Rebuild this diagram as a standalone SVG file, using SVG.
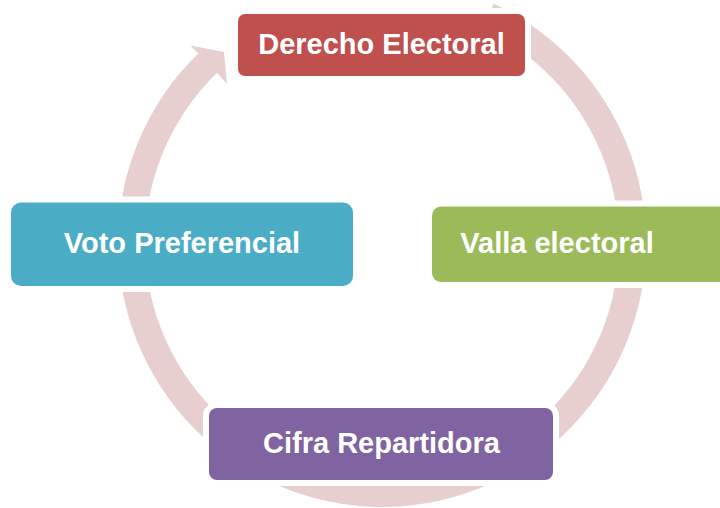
<svg xmlns="http://www.w3.org/2000/svg" width="720" height="508" viewBox="0 0 720 508">
  <style>
    .box { stroke: #FFFFFF; stroke-width: 12; paint-order: stroke fill; }
    .lbl { font-family: "Liberation Sans", Arial, sans-serif; font-weight: bold; font-size: 29px; fill: #FFFFFF; text-anchor: middle; }
    .ring { fill: #E7CFD0; }
  </style>
  <rect width="720" height="508" fill="#FFFFFF"/>
  <g id="connectors">
    <path class="ring" d="M493.6,3.7 A264,264 0 1,1 198.3,53.4 L190.5,45.5 L224,52 L227,84 L217,72.8 A237,237 0 1,0 482.2,28.2 Z"/>
  </g>
  <g id="node-derecho">
    <rect class="box" x="238" y="14" width="287" height="62" rx="7" fill="#C0504D"/>
    <text class="lbl" x="381.5" y="54">Derecho Electoral</text>
  </g>
  <g id="node-valla">
    <rect class="box" x="432" y="206.5" width="320" height="75.5" rx="9" fill="#9BBB59"/>
    <text class="lbl" x="557" y="253">Valla electoral</text>
  </g>
  <g id="node-cifra">
    <rect class="box" x="209" y="408" width="344" height="72" rx="8" fill="#8064A2"/>
    <text class="lbl" x="381.5" y="452.5">Cifra Repartidora</text>
  </g>
  <g id="node-voto">
    <rect class="box" x="11" y="202.5" width="342" height="83.5" rx="10" fill="#4BACC6"/>
    <text class="lbl" x="182" y="252.7">Voto Preferencial</text>
  </g>
</svg>
